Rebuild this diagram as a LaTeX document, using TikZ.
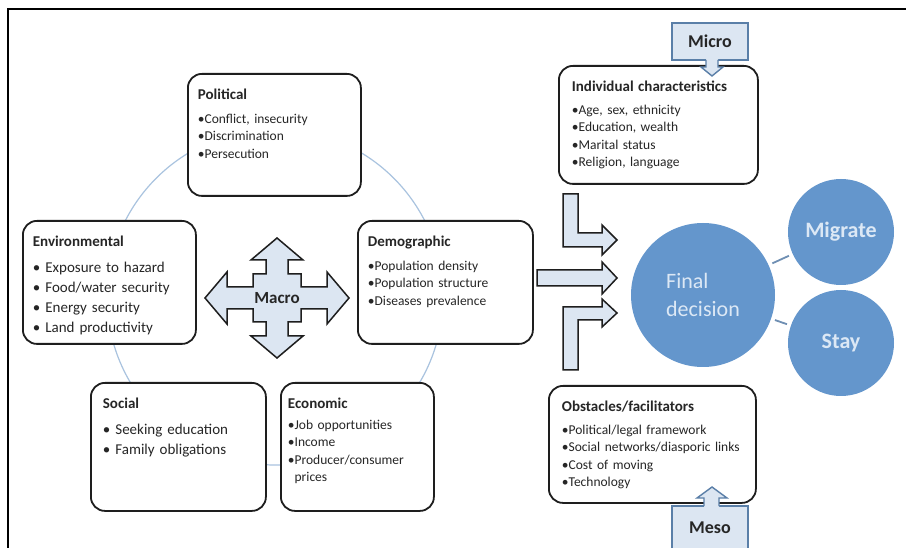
\documentclass[tikz,border=0pt]{standalone}
\usepackage{fontspec}
\setmainfont{Carlito}
\definecolor{boxline}{HTML}{1E1E1E}
\definecolor{textgray}{HTML}{262626}
\definecolor{ringblue}{HTML}{A9C3DF}
\definecolor{arrowfill}{HTML}{DCE6F2}
\definecolor{calloutline}{HTML}{5A7FA8}
\definecolor{circlefill}{HTML}{6496CC}
\definecolor{circletext}{HTML}{DCE8F5}
\definecolor{linkline}{HTML}{6F8FB3}
\tikzset{factorbox/.style={
    draw=boxline,
    fill=white,
    line width=1.8pt,
    rounded corners=14pt,
    anchor=north west,
    align=left,
    inner xsep=10pt,
    inner ysep=15pt,
    text height=11pt,
    text=textgray,
    font=\fontsize{13.5}{17.5}\selectfont
  },
  bigbox/.style={factorbox,font=\fontsize{15}{20}\selectfont},
  blockarrow/.style={draw=boxline,fill=arrowfill,line width=1.5pt},
  calloutbox/.style={draw=calloutline,fill=arrowfill,line width=1.4pt,
    minimum width=76pt,text=textgray,font=\fontsize{18}{20}\selectfont\bfseries},
  decision/.style={circle,fill=circlefill,text=circletext,inner sep=0pt},
  ring/.style={draw=ringblue,line width=1.2pt},
  link/.style={draw=linkline,line width=1.8pt,shorten <=4pt,shorten >=4pt},
}
\newcommand{\ftitle}[1]{{\fontsize{15}{18}\selectfont\bfseries #1}}

\begin{document}
\begin{tikzpicture}[x=1pt,y=-1pt]
  \clip (0,0) rectangle (906,548);
  \fill[white] (0,0) rectangle (906,548);
  \draw[line width=1.2pt] (8,548) -- (8,9) -- (906,9);
  % ring behind the macro factors
  \draw[ring] (275,297) circle[radius=168pt];

  % macro factors
  \node[factorbox,text width=153pt,text depth=81pt] (political) at (187,73)
    {\ftitle{Political}\\[6pt] •Conflict, insecurity\\ •Discrimination\\ •Persecution};
  \node[bigbox,text width=153pt,text depth=82pt] (environmental) at (22,220)
    {\ftitle{Environmental}\\[6pt] • Exposure to hazard\\ • Food/water security\\ • Energy security\\ • Land productivity};
  \node[factorbox,text width=155pt,text depth=82pt] (demographic) at (357,220)
    {\ftitle{Demographic}\\[6pt] •Population density\\ •Population structure\\ •Diseases prevalence};
  \node[bigbox,inner xsep=12pt,text width=151pt,text depth=87pt] (social) at (90,382)
    {\ftitle{Social}\\[6pt] • Seeking education\\ • Family obligations};
  \node[factorbox,inner xsep=7pt,text width=139pt,text depth=87pt] (economic) at (280,382)
    {\ftitle{Economic}\\[3pt] •Job opportunities\\ •Income\\ •Producer/consumer\\ \hphantom{•}prices};

  % macro arrow
  \begin{scope}[shift={(277,298)}]
    \draw[blockarrow] (-72,0) -- (-50,-26) -- (-50,-11) -- (-24,-11) -- (-24,-24)
      -- (-11,-24) -- (-11,-38) -- (-26,-38) -- (0,-60) -- (26,-38) -- (11,-38)
      -- (11,-24) -- (24,-24) -- (24,-11) -- (50,-11) -- (50,-26) -- (72,0)
      -- (50,26) -- (50,11) -- (24,11) -- (24,24) -- (11,24) -- (11,38)
      -- (26,38) -- (0,60) -- (-26,38) -- (-11,38) -- (-11,24) -- (-24,24)
      -- (-24,11) -- (-50,11) -- (-50,26) -- cycle;
    \node[text=textgray,font=\fontsize{17}{20}\selectfont\bfseries] (macro) at (0,0) {Macro};
  \end{scope}

  % micro and meso levels
  \node[factorbox,inner xsep=13pt,text width=173pt,text depth=77pt] (individual) at (558,65)
    {\ftitle{Individual characteristics}\\[5pt] •Age, sex, ethnicity\\ •Education, wealth\\ •Marital status\\ •Religion, language};
  \node[factorbox,inner xsep=13pt,text width=181pt,text depth=76pt] (obstacles) at (548,385)
    {\ftitle{Obstacles/facilitators}\\[5pt] •Political/legal framework\\ •Social networks/diasporic links\\ •Cost of moving\\ •Technology};

  \node[calloutbox,minimum height=37pt] (micro) at (710,41.5) {Micro};
  \fill[arrowfill] (706,58.5) -- (706,67) -- (701,67) -- (712,76) -- (723,67) -- (718,67) -- (718,58.5) -- cycle;
  \draw[draw=calloutline,line width=1.4pt] (706,60) -- (706,67) -- (701,67) -- (712,76) -- (723,67) -- (718,67) -- (718,60);

  \node[calloutbox,minimum height=44pt] (meso) at (710,528) {Meso};
  \fill[arrowfill] (704,507.5) -- (704,498) -- (697,498) -- (712,487) -- (727,498) -- (719,498) -- (719,507.5) -- cycle;
  \draw[draw=calloutline,line width=1.4pt] (704,506) -- (704,498) -- (697,498) -- (712,487) -- (727,498) -- (719,498) -- (719,506);

  % arrows into the decision
  \draw[blockarrow] (563,194) -- (578,194) -- (578,233) -- (602,233) -- (602,225)
    -- (617,240) -- (602,255) -- (602,247) -- (563,247) -- cycle;
  \draw[blockarrow] (537,270) -- (602,270) -- (602,262) -- (617,278) -- (602,294)
    -- (602,286) -- (537,286) -- cycle;
  \draw[blockarrow] (563,307) -- (602,307) -- (602,299) -- (617,313) -- (602,327)
    -- (602,320) -- (578,320) -- (578,370) -- (563,370) -- cycle;

  % decision
  \node[decision,minimum size=144pt,align=left,font=\fontsize{22}{28}\selectfont] (final) at (703,295) {Final\\decision};
  \node[decision,minimum size=106pt,font=\fontsize{22}{26}\selectfont\bfseries] (migrate) at (841,232) {Migrate};
  \node[decision,minimum size=106pt,font=\fontsize{22}{26}\selectfont\bfseries] (stay) at (841,343) {Stay};
  \draw[link] (final) -- (migrate);
  \draw[link] (final) -- (stay);
\end{tikzpicture}
\end{document}
